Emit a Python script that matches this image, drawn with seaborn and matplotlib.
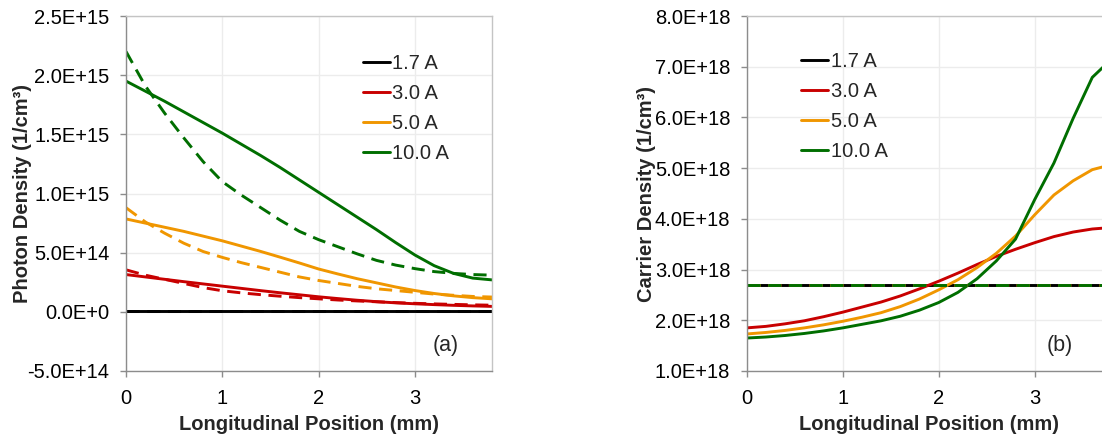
import numpy as np
import pandas as pd
import matplotlib
matplotlib.use("Agg")
import matplotlib.pyplot as plt
import seaborn as sns

# ---------------- data ----------------
position_mm = [0.0, 0.2, 0.4, 0.6, 0.8, 1.0, 1.2, 1.4, 1.6, 1.8,
               2.0, 2.2, 2.4, 2.6, 2.8, 3.0, 3.2, 3.4, 3.6, 3.8]

currents = ["1.7 A", "3.0 A", "5.0 A", "10.0 A"]
colors = ["#000000", "#C80000", "#F09600", "#006E00"]

# Photon density, units of 1E15 1/cm^3 (solid lines)
photon_solid_1p7 = [0.003] * 20
photon_solid_3p0 = [0.315, 0.295, 0.275, 0.255, 0.236, 0.217, 0.198, 0.179, 0.161, 0.144,
                    0.127, 0.112, 0.098, 0.086, 0.076, 0.068, 0.061, 0.055, 0.050, 0.046]
photon_solid_5p0 = [0.785, 0.750, 0.715, 0.680, 0.640, 0.600, 0.555, 0.510, 0.462, 0.413,
                    0.362, 0.320, 0.280, 0.245, 0.210, 0.180, 0.155, 0.135, 0.120, 0.110]
photon_solid_10p0 = [1.950, 1.865, 1.780, 1.690, 1.600, 1.510, 1.415, 1.320, 1.220, 1.115,
                     1.010, 0.905, 0.800, 0.695, 0.585, 0.480, 0.390, 0.325, 0.285, 0.270]
# Photon density (dashed lines)
photon_dash_1p7 = [0.003] * 20
photon_dash_3p0 = [0.355, 0.310, 0.275, 0.240, 0.205, 0.178, 0.160, 0.145, 0.132, 0.120,
                   0.110, 0.100, 0.092, 0.085, 0.078, 0.072, 0.067, 0.063, 0.059, 0.056]
photon_dash_5p0 = [0.880, 0.760, 0.665, 0.580, 0.510, 0.460, 0.415, 0.375, 0.335, 0.295,
                   0.265, 0.240, 0.215, 0.195, 0.180, 0.165, 0.150, 0.140, 0.130, 0.125]
photon_dash_10p0 = [2.200, 1.910, 1.680, 1.470, 1.270, 1.100, 0.985, 0.880, 0.775, 0.680,
                    0.610, 0.550, 0.490, 0.435, 0.395, 0.365, 0.340, 0.325, 0.315, 0.310]

# Carrier density, units of 1E18 1/cm^3 (solid lines)
carrier_solid_1p7 = [2.70] * 20
carrier_solid_3p0 = [1.85, 1.88, 1.93, 1.99, 2.07, 2.16, 2.26, 2.36, 2.48, 2.62,
                     2.77, 2.93, 3.10, 3.26, 3.40, 3.53, 3.65, 3.74, 3.80, 3.83]
carrier_solid_5p0 = [1.73, 1.76, 1.80, 1.85, 1.91, 1.98, 2.06, 2.15, 2.27, 2.42,
                     2.60, 2.80, 3.04, 3.32, 3.66, 4.08, 4.47, 4.75, 4.97, 5.07]
carrier_solid_10p0 = [1.65, 1.67, 1.70, 1.74, 1.79, 1.85, 1.92, 1.99, 2.08, 2.20,
                      2.35, 2.55, 2.82, 3.17, 3.60, 4.38, 5.10, 5.98, 6.79, 7.15]
# Carrier density (dashed lines, clamped at threshold)
carrier_dash_1p7 = [2.70] * 20
carrier_dash_3p0 = [2.70] * 20
carrier_dash_5p0 = [2.70] * 20
carrier_dash_10p0 = [2.70] * 20

photon_yticks = [-5e14, 0, 5e14, 1e15, 1.5e15, 2e15, 2.5e15]
photon_ylabels = ["-5.0E+14", "0.0E+0", "5.0E+14", "1.0E+15", "1.5E+15", "2.0E+15", "2.5E+15"]
carrier_yticks = [1e18, 2e18, 3e18, 4e18, 5e18, 6e18, 7e18, 8e18]
carrier_ylabels = ["1.0E+18", "2.0E+18", "3.0E+18", "4.0E+18", "5.0E+18", "6.0E+18", "7.0E+18", "8.0E+18"]
xticks = [0, 1, 2, 3]

# ---------------- style ----------------
sns.set_style("white")
plt.rcParams["font.family"] = ["Liberation Sans", "DejaVu Sans"]

fig = plt.figure(figsize=(11.02, 4.41), dpi=100)
W, H = 1102.0, 441.0
ax1 = fig.add_axes([126 / W, 70 / H, 366 / W, 355 / H])
ax2 = fig.add_axes([746.7 / W, 70 / H, 364.8 / W, 355 / H])

LW = 2.1
DASH = (0, (4.5, 2.6))


def draw(ax, solids, dashes, scale):
    x = np.array(position_mm)
    handles = []
    for vals, c, lab in zip(solids, colors, currents):
        sns.lineplot(x=x, y=np.array(vals) * scale, ax=ax, color=c, lw=LW,
                     estimator=None, sort=False, legend=False)
        handles.append(ax.lines[-1])
        ax.lines[-1].set_label(lab)
    for vals, c in zip(dashes, colors):
        sns.lineplot(x=x, y=np.array(vals) * scale, ax=ax, color=c, lw=LW,
                     estimator=None, sort=False, legend=False)
        ax.lines[-1].set_linestyle(DASH)
    return handles


h1 = draw(ax1,
          [photon_solid_1p7, photon_solid_3p0, photon_solid_5p0, photon_solid_10p0],
          [photon_dash_1p7, photon_dash_3p0, photon_dash_5p0, photon_dash_10p0], 1e15)
h2 = draw(ax2,
          [carrier_solid_1p7, carrier_solid_3p0, carrier_solid_5p0, carrier_solid_10p0],
          [carrier_dash_1p7, carrier_dash_3p0, carrier_dash_5p0, carrier_dash_10p0], 1e18)

for ax, yt, yl, ylabel, tag, tagx in [
        (ax1, photon_yticks, photon_ylabels, "Photon Density (1/cm³)", "(a)", 0.873),
        (ax2, carrier_yticks, carrier_ylabels, "Carrier Density (1/cm³)", "(b)", 0.857)]:
    ax.set_xlim(0, 3.8)
    ax.set_ylim(yt[0], yt[-1])
    ax.set_xticks(xticks)
    ax.set_xticklabels([str(v) for v in xticks])
    ax.set_yticks(yt)
    ax.set_yticklabels(yl)
    ax.grid(True, color="#ececec", lw=1.0)
    ax.set_axisbelow(True)
    for s in ["left", "bottom"]:
        ax.spines[s].set_color("#8c8c8c")
        ax.spines[s].set_linewidth(1.0)
    for s in ["top", "right"]:
        ax.spines[s].set_color("#c4c4c4")
        ax.spines[s].set_linewidth(1.0)
    ax.tick_params(axis="both", which="major", direction="out", length=4.3, width=1.0,
                   color="#8c8c8c", labelsize=14.5, labelcolor="#000000",
                   left=True, bottom=True)
    ax.tick_params(axis="y", pad=7.5)
    ax.tick_params(axis="x", pad=9.0)
    ax.set_xlabel("Longitudinal Position (mm)", fontsize=14.5, fontweight="bold")
    ax.set_ylabel(ylabel, fontsize=14.5, fontweight="bold")
    ax.xaxis.set_label_coords(0.5, -0.125)
    ax.text(tagx, 0.073, tag, transform=ax.transAxes, fontsize=15.5,
            ha="center", va="center")

ax1.yaxis.set_label_coords(-0.258, 0.5)
ax2.yaxis.set_label_coords(-0.25, 0.5)

leg_kw = dict(loc="upper left", frameon=False, fontsize=14.5, handlelength=1.35,
              handletextpad=0.12, labelspacing=0.55, borderpad=0, borderaxespad=0)
ax1.legend(handles=h1, labels=currents, bbox_to_anchor=(0.647, 0.893), **leg_kw)
ax2.legend(handles=h2, labels=currents, bbox_to_anchor=(0.149, 0.899), **leg_kw)

fig.savefig("out.png", dpi=100)
